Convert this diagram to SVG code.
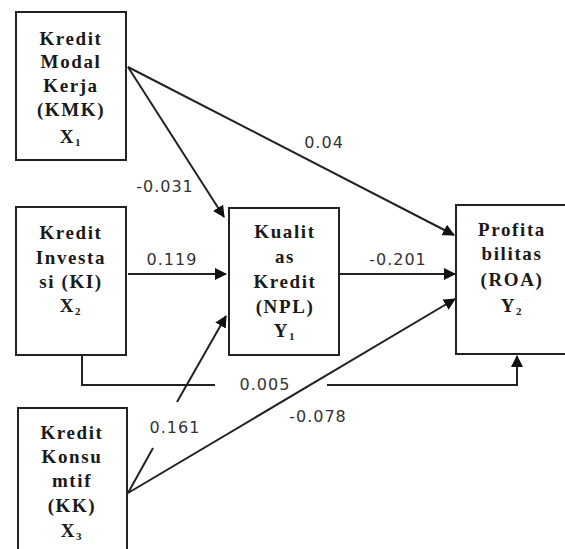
<svg xmlns="http://www.w3.org/2000/svg" width="565" height="549" viewBox="0 0 565 549">
<defs>
<style>
.box{fill:#fff;stroke:#222;stroke-width:2}
.nt{font-family:"Liberation Serif","DejaVu Serif",serif;font-weight:700;font-size:19px;letter-spacing:1.6px;fill:#1a1a1a;text-anchor:middle}
.sub{font-size:11px}
.ln{fill:none;stroke:#222;stroke-width:2}
.lb{font-family:"DejaVu Sans",sans-serif;font-size:16px;letter-spacing:1px;fill:#333;text-anchor:middle}
</style>
<marker id="ah" markerWidth="12" markerHeight="12" refX="11" refY="6" orient="auto" markerUnits="userSpaceOnUse" viewBox="0 0 12 12">
<path d="M0,0 L12,6 L0,12 z" fill="#111"/>
</marker>
</defs>
<rect width="565" height="549" fill="#fff"/>
<g id="connectors">
<line class="ln" x1="128" y1="67" x2="224" y2="217" marker-end="url(#ah)"/>
<line class="ln" x1="128" y1="67" x2="454" y2="235" marker-end="url(#ah)"/>
<line class="ln" x1="128" y1="274" x2="226" y2="274" marker-end="url(#ah)"/>
<line class="ln" x1="339" y1="274" x2="455" y2="274" marker-end="url(#ah)"/>
<line class="ln" x1="128" y1="493" x2="153" y2="448"/>
<line class="ln" x1="177" y1="402" x2="226" y2="316" marker-end="url(#ah)"/>
<line class="ln" x1="128" y1="493" x2="455" y2="299" marker-end="url(#ah)"/>
<polyline class="ln" points="82,355 82,385 215,385"/>
<polyline class="ln" points="327,385 517,385 517,356" marker-end="url(#ah)"/>
</g>
<g id="labels">
<text class="lb" x="165" y="192">-0.031</text>
<text class="lb" x="324" y="148">0.04</text>
<text class="lb" x="172" y="265">0.119</text>
<text class="lb" x="398" y="265">-0.201</text>
<text class="lb" x="175" y="433">0.161</text>
<text class="lb" x="265" y="390">0.005</text>
<text class="lb" x="318" y="422">-0.078</text>
</g>
<g id="kmk">
<rect class="box" x="16" y="12" width="110" height="148"/>
<text class="nt" x="71" y="45">Kredit</text>
<text class="nt" x="71" y="68">Modal</text>
<text class="nt" x="71" y="92">Kerja</text>
<text class="nt" x="71" y="116">(KMK)</text>
<text class="nt" x="71" y="143">X<tspan class="sub" dy="3">1</tspan></text>
</g>
<g id="ki">
<rect class="box" x="16" y="207" width="110" height="148"/>
<text class="nt" x="71" y="239">Kredit</text>
<text class="nt" x="71" y="264">Investa</text>
<text class="nt" x="71" y="288">si (KI)</text>
<text class="nt" x="71" y="312">X<tspan class="sub" dy="3">2</tspan></text>
</g>
<g id="kk">
<rect class="box" x="18" y="408" width="109" height="150"/>
<text class="nt" x="72" y="439">Kredit</text>
<text class="nt" x="72" y="463">Konsu</text>
<text class="nt" x="72" y="487">mtif</text>
<text class="nt" x="72" y="512">(KK)</text>
<text class="nt" x="72" y="537">X<tspan class="sub" dy="3">3</tspan></text>
</g>
<g id="npl">
<rect class="box" x="229" y="208" width="110" height="147"/>
<text class="nt" x="285" y="238">Kualit</text>
<text class="nt" x="285" y="263">as</text>
<text class="nt" x="285" y="288">Kredit</text>
<text class="nt" x="285" y="313">(NPL)</text>
<text class="nt" x="285" y="337">Y<tspan class="sub" dy="3">1</tspan></text>
</g>
<g id="roa">
<rect class="box" x="456" y="205" width="112" height="149"/>
<text class="nt" x="512" y="236">Profita</text>
<text class="nt" x="512" y="260">bilitas</text>
<text class="nt" x="512" y="286">(ROA)</text>
<text class="nt" x="512" y="312">Y<tspan class="sub" dy="3">2</tspan></text>
</g>
</svg>
